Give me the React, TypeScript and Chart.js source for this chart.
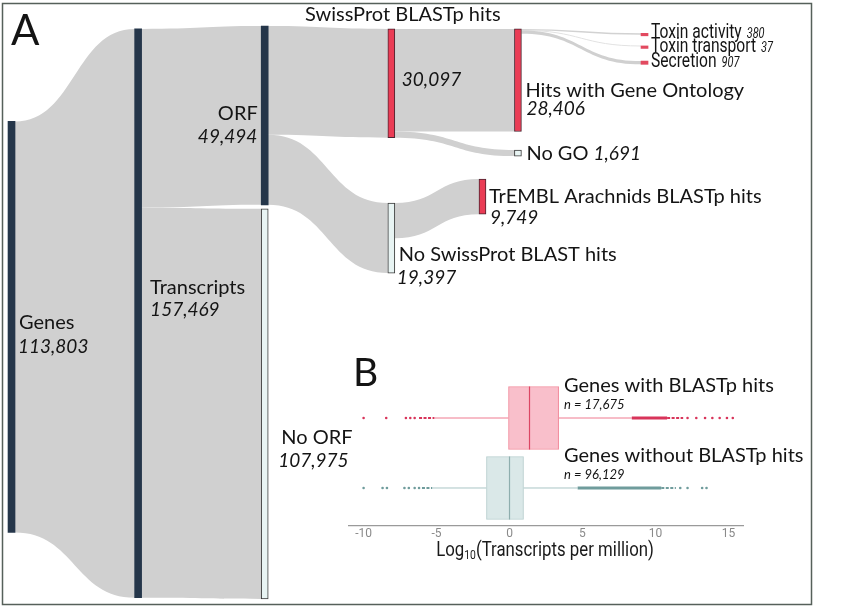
import React, { useEffect, useRef } from 'react';
import { Chart, registerables } from 'chart.js';
Chart.register(...registerables);

// ---------- Sankey data (panel A) ----------
const nodeNames = [
  'Genes', 'Transcripts', 'ORF', 'No ORF', 'SwissProt BLASTp hits', 'No SwissProt BLAST hits',
  'Hits with Gene Ontology', 'No GO', 'TrEMBL Arachnids BLASTp hits', 'Toxin activity', 'Toxin transport', 'Secretion',
];
const nodeValues = [113803, 157469, 49494, 107975, 30097, 19397, 28406, 1691, 9749, 380, 37, 907];
const nodeValueLabels = ['113,803', '157,469', '49,494', '107,975', '30,097', '19,397', '28,406', '1,691', '9,749', '380', '37', '907'];
const linkSources = [0, 1, 1, 2, 2, 4, 4, 5, 6, 6, 6];
const linkTargets = [1, 2, 3, 4, 5, 6, 7, 8, 9, 10, 11];
const linkValues = [113803, 49494, 107975, 30097, 19397, 28406, 1691, 9749, 380, 37, 907];

// ---------- Box plot data (panel B) ----------
const boxGroups = ['Genes with BLASTp hits', 'Genes without BLASTp hits'];
const boxCounts = ['n = 17,675', 'n = 96,129'];
const boxQ1 = [-0.07, -1.58];
const boxMedian = [1.37, 0.0];
const boxQ3 = [3.37, 0.96];
const whiskerLow = [-5.15, -5.3];
const whiskerHigh = [8.38, 4.67];
const outliersWith = [-10.0, -8.45, -7.1, -6.8, -6.5, 12.2, 12.8, 13.4, 13.9, 14.4, 14.9, 15.3];
const outliersWithout = [-10.0, -8.7, -8.4, -7.2, -6.9, -6.5, -6.2, 11.7, 12.2, 13.2, 13.5];
const denseWith = [[-6.2, -5.15], [8.38, 10.8], [10.8, 11.9]];
const denseWithout = [[-6.0, -5.3], [4.67, 10.4], [10.4, 11.4]];
const xTickValues = [-10, -5, 0, 5, 10, 15];

// ---------- layout / style (not data) ----------
const nodeStage = [0, 1, 2, 2, 3, 3, 4, 4, 3.72, 5, 5, 5];
const nodeStart = [25600, 0, -800, 49800, 0, 48190, 0, 33520, 41550, 1221, 4715, 8903];
const DARK = '#25364a';
const RED = '#ea3c55';
const LIGHT = '#e8f4f3';
const nodeFill = [DARK, DARK, DARK, LIGHT, RED, LIGHT, RED, LIGHT, RED, '#e24a60', '#e24a60', '#e24a60'];
const nodeBorder = [DARK, DARK, DARK, '#3a3a3a', '#4a2530', '#3a3a3a', '#4a2530', '#3a3a3a', '#4a2530', '#e24a60', '#e24a60', '#e24a60'];
const nodeBorderW = [0, 0, 0, 1, 1, 1, 1, 1, 1, 0, 0, 0];
// [nameDx, nameDy, valueDx, valueDy, nameAlign, inline]
const labelPos: [number, number, number, number, CanvasTextAlign, boolean][] = [
  [7.5, -4, 6.5, 20, 'left', false],
  [12, -26, 12, -3, 'left', false],
  [-7, -1.5, -7.5, 21.5, 'right', false],
  [16.5, 33.7, 13.5, 57, 'left', false],
  [11.5, -68.3, 10.5, -3, 'center', false],
  [7.5, 17, 5.5, 40, 'left', false],
  [7.5, 10, 8.5, 29, 'left', false],
  [8.5, 0.5, 0, 0, 'left', true],
  [6.5, 0, 7.5, 21.5, 'left', false],
  [6.5, -1, 0, 0, 'left', true],
  [6.5, 1, 0, 0, 'left', true],
  [6.5, -0.7, 0, 0, 'left', true],
];
const MAIN_FONT = 'Lato, "Open Sans", sans-serif';

function condText(ctx: CanvasRenderingContext2D, text: string, x: number, y: number, sx: number) {
  ctx.save();
  ctx.translate(x, y);
  ctx.scale(sx, 1);
  ctx.fillText(text, 0, 0);
  ctx.restore();
}

const sankeyPlugin = {
  id: 'sankeyLinks',
  beforeDatasetsDraw(chart: any) {
    const { ctx } = chart;
    const xs = chart.scales.x, ys = chart.scales.y;
    const half = 3.5;
    const inSum = nodeValues.map(() => 0);
    linkTargets.forEach((t, i) => { inSum[t] += linkValues[i]; });
    const outOff = nodeValues.map(() => 0);
    const inOff = nodeValues.map(() => 0);
    ctx.save();
    linkSources.forEach((s, i) => {
      const t = linkTargets[i];
      const v = linkValues[i];
      const ts = nodeValues[t] / inSum[t];
      const s0 = nodeStart[s] + outOff[s];
      const s1 = s0 + v;
      outOff[s] += v;
      const t0 = nodeStart[t] + inOff[t];
      const t1 = t0 + v * ts;
      inOff[t] += v * ts;
      const x0 = xs.getPixelForValue(nodeStage[s]) + half;
      const x1 = xs.getPixelForValue(nodeStage[t]) - half;
      const a0 = ys.getPixelForValue(s0), a1 = ys.getPixelForValue(s1);
      const b0 = ys.getPixelForValue(t0), b1 = ys.getPixelForValue(t1);
      const xm = (x0 + x1) / 2;
      if (Math.abs(a1 - a0) < 1.6) {
        const am = (a0 + a1) / 2, bm = (b0 + b1) / 2;
        ctx.beginPath();
        ctx.moveTo(x0, am);
        ctx.bezierCurveTo(xm, am, xm, bm, x1, bm);
        ctx.strokeStyle = Math.abs(a1 - a0) < 0.5 ? '#e2e2e2' : '#d2d2d2';
        ctx.lineWidth = Math.max(Math.abs(a1 - a0), 1);
        ctx.stroke();
      } else {
        ctx.beginPath();
        ctx.moveTo(x0, a0);
        ctx.bezierCurveTo(xm, a0, xm, b0, x1, b0);
        ctx.lineTo(x1, b1);
        ctx.bezierCurveTo(xm, b1, xm, a1, x0, a1);
        ctx.closePath();
        ctx.fillStyle = '#d0d0d0';
        ctx.fill();
      }
    });
    ctx.restore();
  },
  afterDatasetsDraw(chart: any) {
    const { ctx } = chart;
    const xs = chart.scales.x, ys = chart.scales.y;
    ctx.save();
    ctx.fillStyle = '#141414';
    ctx.textBaseline = 'middle';
    nodeNames.forEach((name, i) => {
      const cx = xs.getPixelForValue(nodeStage[i]);
      const cy = ys.getPixelForValue(nodeStart[i] + nodeValues[i] / 2);
      const [ndx, ndy, vdx, vdy, align, inline] = labelPos[i];
      const toxin = i >= 9;
      if (toxin) {
        ctx.textAlign = 'left';
        ctx.font = `20px Roboto, sans-serif`;
        const sx = 0.78;
        const w = ctx.measureText(name).width * sx;
        condText(ctx, name, cx + ndx, cy + ndy, sx);
        ctx.font = `italic 14px Roboto, sans-serif`;
        condText(ctx, nodeValueLabels[i], cx + ndx + w + 5, cy + ndy + 1.5, sx);
        return;
      }
      ctx.textAlign = align;
      ctx.font = `20px ${MAIN_FONT}`;
      ctx.fillText(name, cx + ndx, cy + ndy);
      if (inline) {
        const w = ctx.measureText(name + ' ').width;
        ctx.font = `italic 19px ${MAIN_FONT}`;
        ctx.fillText(nodeValueLabels[i], cx + ndx + w, cy + ndy);
      } else {
        ctx.textAlign = align === 'right' ? 'right' : 'left';
        ctx.font = `italic 19px ${MAIN_FONT}`;
        ctx.fillText(nodeValueLabels[i], cx + vdx, cy + vdy);
      }
    });
    ctx.textAlign = 'left';
    ctx.font = `42px ${MAIN_FONT}`;
    ctx.fillText('A', 11, 31);
    ctx.strokeStyle = '#56605a';
    ctx.lineWidth = 1.5;
    ctx.strokeRect(2.5, 3.5, 809, 601);
    ctx.restore();
  },
};

const RED_BOX = { fill: 'rgba(249,188,200,0.95)', border: '#f2909f', median: '#dc4664', whisker: '#ef7a90', out: '#d8345a' };
const TEAL_BOX = { fill: 'rgba(216,231,231,0.95)', border: '#b9d0d0', median: '#8eaeae', whisker: '#a9c5c5', out: '#6f9c9c' };
const boxStyles = [RED_BOX, TEAL_BOX];

const boxPlugin = {
  id: 'boxExtras',
  beforeDatasetsDraw(chart: any) {
    const { ctx } = chart;
    const xs = chart.scales.x, ys = chart.scales.y;
    ctx.save();
    boxGroups.forEach((g, i) => {
      const y = ys.getPixelForValue(i);
      ctx.strokeStyle = boxStyles[i].whisker;
      ctx.lineWidth = 1;
      ctx.beginPath();
      ctx.moveTo(xs.getPixelForValue(whiskerLow[i]), y);
      ctx.lineTo(xs.getPixelForValue(boxQ1[i]), y);
      ctx.moveTo(xs.getPixelForValue(boxQ3[i]), y);
      ctx.lineTo(xs.getPixelForValue(whiskerHigh[i]), y);
      ctx.stroke();
    });
    ctx.restore();
  },
  afterDatasetsDraw(chart: any) {
    const { ctx, chartArea } = chart;
    const xs = chart.scales.x, ys = chart.scales.y;
    ctx.save();
    boxGroups.forEach((g, i) => {
      const y = ys.getPixelForValue(i);
      const x = xs.getPixelForValue(boxMedian[i]);
      ctx.strokeStyle = boxStyles[i].median;
      ctx.lineWidth = 1.2;
      ctx.beginPath();
      ctx.moveTo(x, y - 31.5);
      ctx.lineTo(x, y + 31.5);
      ctx.stroke();
      ctx.fillStyle = '#141414';
      ctx.textBaseline = 'middle';
      ctx.textAlign = 'left';
      ctx.font = `20px ${MAIN_FONT}`;
      ctx.fillText(g, chartArea.left + 215, y - 32);
      ctx.font = `italic 13px ${MAIN_FONT}`;
      ctx.fillText(boxCounts[i], chartArea.left + 215, y - 13);
    });
    // panel letter
    ctx.font = `39px ${MAIN_FONT}`;
    ctx.fillStyle = '#141414';
    ctx.fillText('B', chartArea.left + 4, ys.getPixelForValue(0) - 45);
    // axis title with subscript
    const sx = 0.8;
    const cxT = 545 - 340;
    const yT = chartArea.bottom + 25;
    ctx.font = '21px Roboto, sans-serif';
    const w1 = ctx.measureText('Log').width * sx;
    const w3 = ctx.measureText('(Transcripts per million)').width * sx;
    ctx.font = '13px Roboto, sans-serif';
    const w2 = ctx.measureText('10').width * sx;
    const xT = cxT - (w1 + w2 + w3) / 2;
    ctx.fillStyle = '#1a1a1a';
    ctx.font = '21px Roboto, sans-serif';
    condText(ctx, 'Log', xT, yT, sx);
    ctx.font = '13px Roboto, sans-serif';
    condText(ctx, '10', xT + w1, yT + 5, sx);
    ctx.font = '21px Roboto, sans-serif';
    condText(ctx, '(Transcripts per million)', xT + w1 + w2, yT, sx);
    ctx.restore();
  },
};

export default function App() {
  const mainRef = useRef<HTMLCanvasElement>(null);
  const boxRef = useRef<HTMLCanvasElement>(null);
  useEffect(() => {
    const c1 = new Chart(mainRef.current as HTMLCanvasElement, {
      type: 'bar',
      data: {
        datasets: [
          {
            data: nodeNames.map((n, i) => ({ x: nodeStage[i], y: [nodeStart[i], nodeStart[i] + nodeValues[i]] })) as any,
            backgroundColor: nodeFill,
            borderColor: nodeBorder,
            borderWidth: nodeBorderW,
            borderSkipped: false,
            barThickness: 7,
            minBarLength: 2.5,
          } as any,
        ],
      },
      options: {
        responsive: false,
        animation: false,
        layout: { padding: 0 },
        plugins: { legend: { display: false }, tooltip: { enabled: false } },
        scales: {
          x: { type: 'linear', min: -0.091, max: 6.623, display: false, offset: false, grid: { offset: false } },
          y: { type: 'linear', min: -8000, max: 160300, reverse: true, display: false, offset: false, grid: { offset: false } },
        },
      } as any,
      plugins: [sankeyPlugin],
    });

    const lineSets: any[] = [];
    denseWith.forEach((b, k) => lineSets.push({
      type: 'line', data: b.map((v) => ({ x: v, y: 0 })), borderColor: RED_BOX.out,
      borderWidth: k === 1 ? 3 : 2, pointRadius: 0, borderDash: k === 1 ? [] : [3, 1.5],
    }));
    denseWithout.forEach((b, k) => lineSets.push({
      type: 'line', data: b.map((v) => ({ x: v, y: 1 })), borderColor: TEAL_BOX.out,
      borderWidth: k === 1 ? 3 : 2, pointRadius: 0, borderDash: k === 1 ? [] : [3, 1.5],
    }));

    const c2 = new Chart(boxRef.current as HTMLCanvasElement, {
      type: 'bar',
      data: {
        datasets: [
          {
            type: 'bar',
            indexAxis: 'y',
            data: boxGroups.map((g, i) => ({ y: i, x: [boxQ1[i], boxQ3[i]] })) as any,
            backgroundColor: boxStyles.map((s) => s.fill),
            borderColor: boxStyles.map((s) => s.border),
            borderWidth: 1,
            borderSkipped: false,
            barThickness: 63,
          } as any,
          ...lineSets,
          {
            type: 'scatter', data: outliersWith.map((v) => ({ x: v, y: 0 })),
            pointRadius: 1.3, backgroundColor: RED_BOX.out, borderWidth: 0,
          } as any,
          {
            type: 'scatter', data: outliersWithout.map((v) => ({ x: v, y: 1 })),
            pointRadius: 1.3, backgroundColor: TEAL_BOX.out, borderWidth: 0,
          } as any,
        ],
      },
      options: {
        responsive: false,
        animation: false,
        layout: { padding: { left: 9, right: 77, top: 25, bottom: 29 } },
        plugins: { legend: { display: false }, tooltip: { enabled: false } },
        scales: {
          x: {
            type: 'linear', min: -11, max: 16, offset: false,
            grid: { display: false, offset: false, drawTicks: false },
            border: { display: true, color: '#9a9a9a', width: 1.2 },
            ticks: { font: { family: 'Roboto', size: 12 }, color: '#8a8a8a', padding: 1 },
            afterBuildTicks: (s: any) => { s.ticks = xTickValues.map((v) => ({ value: v })); },
            afterFit: (s: any) => { s.height = 20; },
          },
          y: { type: 'linear', min: -0.543, max: 1.543, reverse: true, display: false, offset: false, grid: { offset: false } },
        },
      } as any,
      plugins: [boxPlugin],
    });
    return () => { c1.destroy(); c2.destroy(); };
  }, []);
  return (
    <div style={{ position: 'fixed', left: 0, top: 0, width: 850, height: 608, background: '#fff' }}>
      <canvas ref={mainRef} width={850} height={608} style={{ position: 'absolute', left: 0, top: 0 }} />
      <canvas ref={boxRef} width={480} height={220} style={{ position: 'absolute', left: 340, top: 355 }} />
    </div>
  );
}
